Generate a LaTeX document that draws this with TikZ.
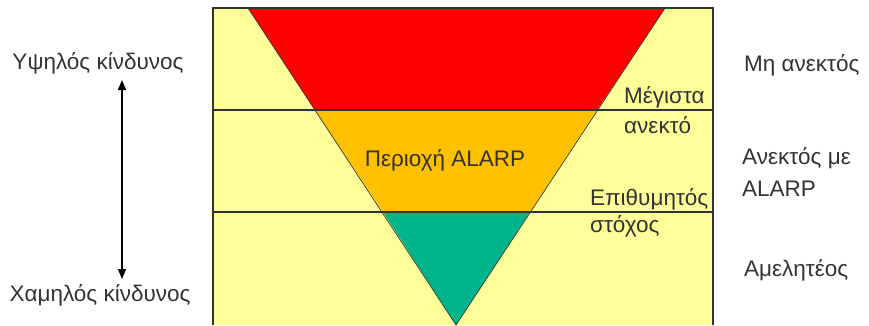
\documentclass[tikz,border=0pt]{standalone}
\usepackage{fontspec}
\setmainfont{Liberation Sans}
\usetikzlibrary{arrows.meta}
\definecolor{gelb}{HTML}{FFFF99}
\definecolor{rot}{HTML}{FF0000}
\definecolor{orange}{HTML}{FFC000}
\definecolor{gruen}{HTML}{00B48C}
\definecolor{linie}{HTML}{333333}
\tikzset{
  txt/.style={font=\fontsize{22.5}{27}\selectfont,inner sep=0pt,text=black!80},
  grenze/.style={linie,line width=1.2pt},
  pfeil/.style={{Triangle[length=10pt,width=8pt]}-{Triangle[length=10pt,width=8pt]},black,line width=1.3pt},
}

\begin{document}
\begin{tikzpicture}[x=1pt,y=-1pt]
  \useasboundingbox (0,0) rectangle (869,325);
  % Hintergrund und Zonen
  \fill[gelb] (213,8) rectangle (713,325);
  \fill[rot] (248,8)--(665,8)--(597,110)--(315,110)--cycle;
  \fill[orange] (315,110)--(597,110)--(530,212)--(383,212)--cycle;
  \fill[gruen] (383,212)--(530,212)--(456,325)--cycle;
  \draw[linie,line width=0.7pt] (248,8)--(456,325)--(665,8);
  \draw[grenze] (213,325)--(213,8)--(713,8)--(713,325);
  \draw[grenze] (213,110)--(713,110);
  \draw[grenze] (213,212)--(713,212);
  % Texte
  \node[txt] (hoch) at (98,63) {Υψηλός κίνδυνος};
  \node[txt] (tief) at (100,295) {Χαμηλός κίνδυνος};
  \coordinate (pfo) at (122,80);
  \coordinate (pfu) at (122,279);
  \draw[pfeil] (pfo)--(pfu);
  \node[txt] (alarp) at (445,160) {Περιοχή ALARP};
  \node[txt,anchor=west,align=left] (max) at (624,110) {Μέγιστα\\[3pt]ανεκτό};
  \node[txt,anchor=west,align=left] (ziel) at (590,213) {Επιθυμητός\\στόχος};
  \node[txt,anchor=west] (nicht) at (744,65) {Μη ανεκτός};
  \node[txt,anchor=west,align=left] (mit) at (742,172) {Ανεκτός με\\[5pt]ALARP};
  \node[txt,anchor=west] (gering) at (744,270) {Αμελητέος};
\end{tikzpicture}
\end{document}
